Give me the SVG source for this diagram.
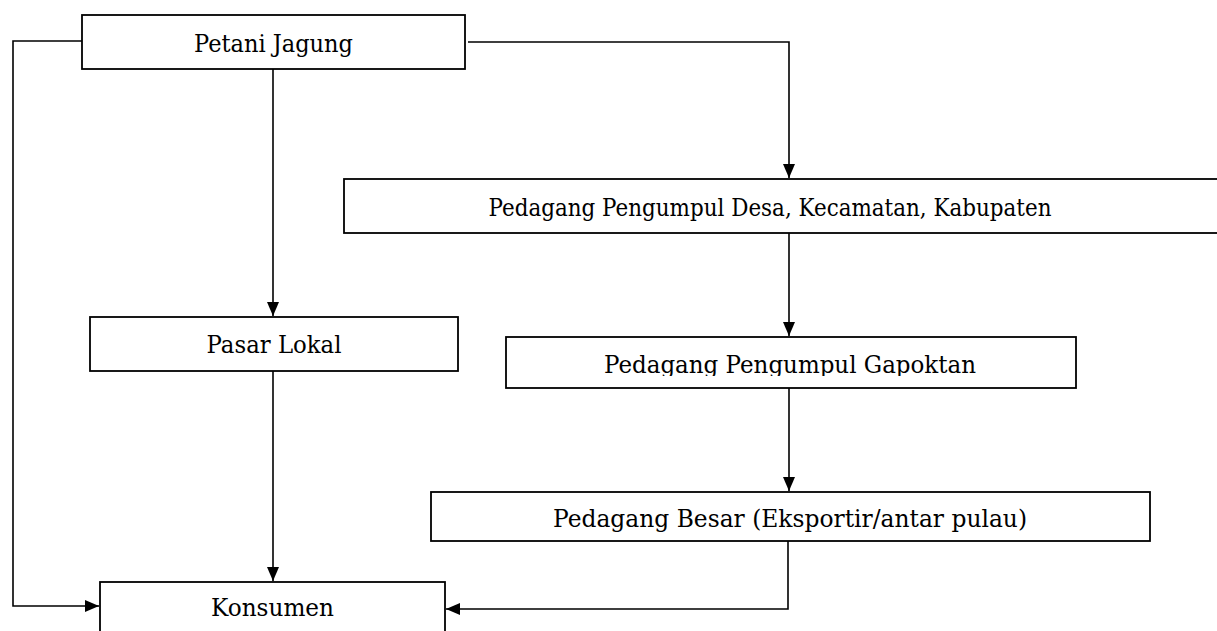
<svg xmlns="http://www.w3.org/2000/svg" width="1217" height="631" viewBox="0 0 1217 631">
  <style>
    .box { fill: #fff; stroke: #000; stroke-width: 1.8; }
    .lbl { font-family: "DejaVu Serif", "Liberation Serif", serif; font-size: 25px; fill: #000; text-anchor: middle; }
    .con { fill: none; stroke: #000; stroke-width: 1.6; marker-end: url(#arr); }
  </style>
  <defs>
    <marker id="arr" markerUnits="userSpaceOnUse" markerWidth="15" markerHeight="13" refX="14" refY="6" orient="auto">
      <path d="M0,0 L14,6 L0,12 z" fill="#000"/>
    </marker>
    <clipPath id="clipG"><rect x="506" y="337" width="570" height="39"/></clipPath>
  </defs>
  <rect width="1217" height="631" fill="#fff"/>

  <g id="connectors">
    <path class="con" d="M82,41 H13 V606 H99"/>
    <path class="con" d="M468,42 H789 V178"/>
    <path class="con" d="M273,69 V316"/>
    <path class="con" d="M273,371 V581"/>
    <path class="con" d="M789,233 V336"/>
    <path class="con" d="M789,388 V491"/>
    <path class="con" d="M788,541 V609 H446"/>
  </g>

  <g id="petani">
    <rect class="box" x="82" y="15" width="383" height="54"/>
    <text class="lbl" x="273.5" y="52" textLength="159" lengthAdjust="spacingAndGlyphs">Petani Jagung</text>
  </g>
  <g id="pengumpul-desa">
    <rect class="box" x="344" y="179" width="880" height="54"/>
    <text class="lbl" x="770" y="216" textLength="563" lengthAdjust="spacingAndGlyphs">Pedagang Pengumpul Desa, Kecamatan, Kabupaten</text>
  </g>
  <g id="pasar-lokal">
    <rect class="box" x="90" y="317" width="368" height="54"/>
    <text class="lbl" x="274" y="353" textLength="135" lengthAdjust="spacingAndGlyphs">Pasar Lokal</text>
  </g>
  <g id="gapoktan">
    <rect class="box" x="506" y="337" width="570" height="51"/>
    <text class="lbl" x="790" y="373" textLength="372" lengthAdjust="spacingAndGlyphs" clip-path="url(#clipG)">Pedagang Pengumpul Gapoktan</text>
  </g>
  <g id="pedagang-besar">
    <rect class="box" x="431" y="492" width="719" height="49"/>
    <text class="lbl" x="790" y="527" textLength="474" lengthAdjust="spacingAndGlyphs">Pedagang Besar (Eksportir/antar pulau)</text>
  </g>
  <g id="konsumen">
    <rect class="box" x="100" y="582" width="345" height="60"/>
    <text class="lbl" x="272.5" y="616" textLength="123" lengthAdjust="spacingAndGlyphs">Konsumen</text>
  </g>
</svg>
